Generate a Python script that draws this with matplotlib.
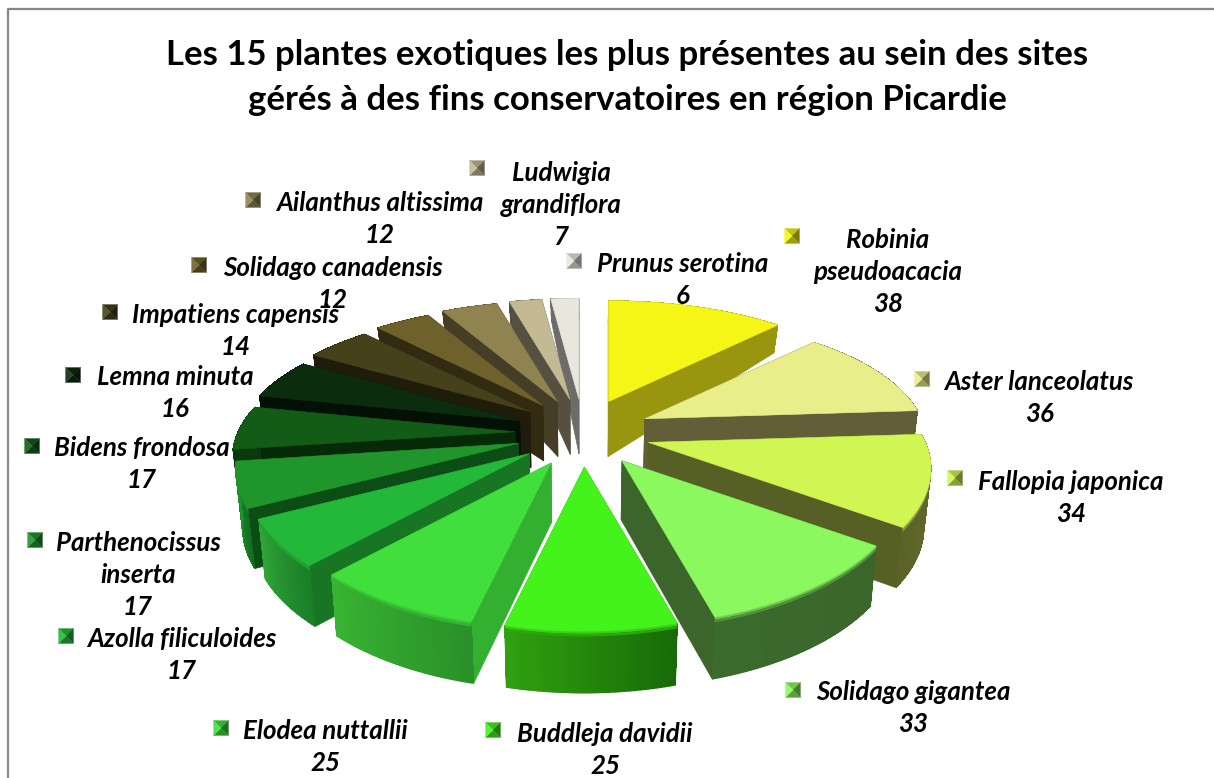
import numpy as np
import matplotlib
matplotlib.use("Agg")
import matplotlib.pyplot as plt
from matplotlib.patches import Polygon
from matplotlib.colors import to_rgb

species = ["Robinia\npseudoacacia", "Aster lanceolatus", "Fallopia japonica", "Solidago gigantea",
           "Buddleja davidii", "Elodea nuttallii", "Azolla filiculoides", "Parthenocissus\ninserta",
           "Bidens frondosa", "Lemna minuta", "Impatiens capensis", "Solidago canadensis",
           "Ailanthus altissima", "Ludwigia\ngrandiflora", "Prunus serotina"]
counts = [38, 36, 34, 33, 25, 25, 17, 17, 17, 16, 14, 12, 12, 7, 6]
top_colors = ["#F5F516", "#E9EE8A", "#CFF652", "#8BF85F", "#44F31B", "#40DF3C", "#24B83A", "#1F952C",
              "#125C17", "#0C2C0E", "#45411A", "#6F612B", "#8F8450", "#C3B993", "#E9E6DE"]
side_colors = ["#9A950F", "#625F38", "#566025", "#3B652B", "#2C9C10", "#33B02F", "#187524", "#0B4D14",
               "#062A08", "#031005", "#201C0A", "#332A12", "#453D26", "#55503F", "#6E6C68"]
wall_start = ["#9A950F", "#625F38", "#6B7030", "#3B652B", "#186A08", "#2A902A", "#1A7D27", "#136E20",
              "#0A3A0C", "#031005", "#201C0A", "#332A12", "#453D26", "#55503F", "#6E6C68"]
wall_end = ["#9A950F", "#625F38", "#5B6227", "#3B6B2E", "#30A010", "#38B432", "#2FA538", "#1F9530",
            "#0A3A0C", "#031005", "#201C0A", "#332A12", "#453D26", "#55503F", "#6E6C68"]
label_xy = [(888, 272), (1039, 398), (1071, 498), (913, 708), (605, 750), (325, 747), (182, 655),
            (138, 575), (142, 464), (175, 393), (236, 331), (333, 284), (380, 219), (561, 205), (683, 280)]
key_xy = [(792, 236), (922, 379), (955, 478), (793, 690), (493, 730), (221, 728), (66, 636), (35, 540),
          (32, 446), (73, 375), (110, 312), (199, 265), (253, 200), (477, 168), (574, 261)]
title = "Les 15 plantes exotiques les plus présentes au sein des sites\ngérés à des fins conservatoires en région Picardie"

CX, CY = 583, 433        # pie centre in pixels
EX, EY = 68, 34          # explosion ellipse
RX, RY = 277, 125        # radii
AX_, AY_ = 0.2, 0.24     # perspective


def depth(y):
    return np.interp(y, [300, 330, 400, 460, 620, 700], [22, 29, 55, 59, 62, 60])


def project(mid, theta):
    """Outer point of a slice with explosion direction mid at clockwise angle theta (radians)."""
    tx = CX + EX * np.sin(mid)
    ty = CY - EY * np.cos(mid)
    X, Y = np.sin(theta), np.cos(theta)
    return tx + RX * X / (1 + AX_ * Y), ty - RY * Y / (1 + AY_ * Y), tx, ty


def extrude(x, y, frac=1.0):
    d = depth(y) * frac
    return x + (CX - x) * 0.02 * frac, y + d


def mix(c, other, t):
    c, o = np.array(to_rgb(c)), np.array(to_rgb(other))
    return tuple(c + (o - c) * t)


fig = plt.figure(figsize=(12.14, 7.78), dpi=100)
ax = fig.add_axes([0, 0, 1, 1])
ax.set_xlim(0, 1214)
ax.set_ylim(778, 0)
ax.axis("off")

# chart border
ax.plot([8, 8, 1214], [778, 8.5, 8.5], color="#868686", lw=1.6, zorder=1)

values = np.array(counts, dtype=float)
edges = np.concatenate([[0], np.cumsum(values)]) / values.sum() * 2 * np.pi
mids = (edges[:-1] + edges[1:]) / 2
order = np.argsort(-np.cos(mids))

z = 2
for i in order:
    a0, a1 = edges[i], edges[i + 1]
    th = np.linspace(a0, a1, 60)
    ox, oy, tx, ty = project(mids[i], th)
    top, side = top_colors[i], side_colors[i]
    # radial walls
    for k in (0, -1):
        bx0, by0 = extrude(tx, ty)
        bx1, by1 = extrude(ox[k], oy[k])
        ax.add_patch(Polygon([(tx, ty), (ox[k], oy[k]), (bx1, by1), (bx0, by0)],
                             fc=side, ec=side, lw=0.5, zorder=z))
    # outer wall: smooth outline first, then shading inside it
    bx, by = extrude(ox, oy)
    midcol = mix(wall_start[i], wall_end[i], 0.5)
    ax.add_patch(Polygon(np.r_[np.c_[ox, oy], np.c_[bx, by][::-1]], fc=midcol, ec=midcol, lw=0.4, zorder=z))
    for j in range(len(th) - 1):
        shade = mix(wall_start[i], wall_end[i], j / (len(th) - 2))
        ax.add_patch(Polygon([(ox[j], oy[j]), (ox[j + 1], oy[j + 1]),
                              (bx[j + 1], by[j + 1] - 0.6), (bx[j], by[j] - 0.6)],
                             fc=shade, ec="none", antialiased=False, zorder=z))
    # soft bevel
    if np.cos(mids[i]) < 0.3:
        for f0, f1, c in [(0, .04, mix(top, midcol, .35)), (.04, .08, mix(top, midcol, .7))]:
            x0, y0 = extrude(ox, oy, f0)
            x1, y1 = extrude(ox, oy, f1)
            ax.add_patch(Polygon(np.r_[np.c_[x0, y0], np.c_[x1, y1][::-1]], fc=c, ec="none", zorder=z + .1))
    # top face
    ax.add_patch(Polygon(np.r_[[(tx, ty)], np.c_[ox, oy]], fc=top, ec=top, lw=0.4, zorder=z + .2))
    z += 1

LATO = ["Lato", "DejaVu Sans"]
ax.text(627, 77.5, title, ha="center", va="center", fontsize=25, fontweight="bold",
        family=LATO, color="black", linespacing=1.476, zorder=60)

S = 7.5
for name, n, (lx, ly), (kx, ky), c in zip(species, counts, label_xy, key_xy, top_colors):
    ax.text(lx, ly, f"{name}\n{n}", ha="center", va="center", fontsize=18.6, fontweight="bold",
            style="italic", family=LATO, color="black", linespacing=1.405, zorder=70)
    tl, tr, br, bl = (kx - S, ky - S), (kx + S, ky - S), (kx + S, ky + S), (kx - S, ky + S)
    mid = (kx, ky)
    for tri, col in [((tl, tr, mid), mix(c, "#000000", .2)), ((tr, br, mid), mix(c, "#000000", .5)),
                     ((br, bl, mid), mix(c, "#000000", .35)), ((bl, tl, mid), mix(c, "#FFFFFF", .1))]:
        ax.add_patch(Polygon(tri, fc=col, ec=col, lw=0.2, zorder=65))

fig.savefig("out.png", dpi=100, facecolor="white")
